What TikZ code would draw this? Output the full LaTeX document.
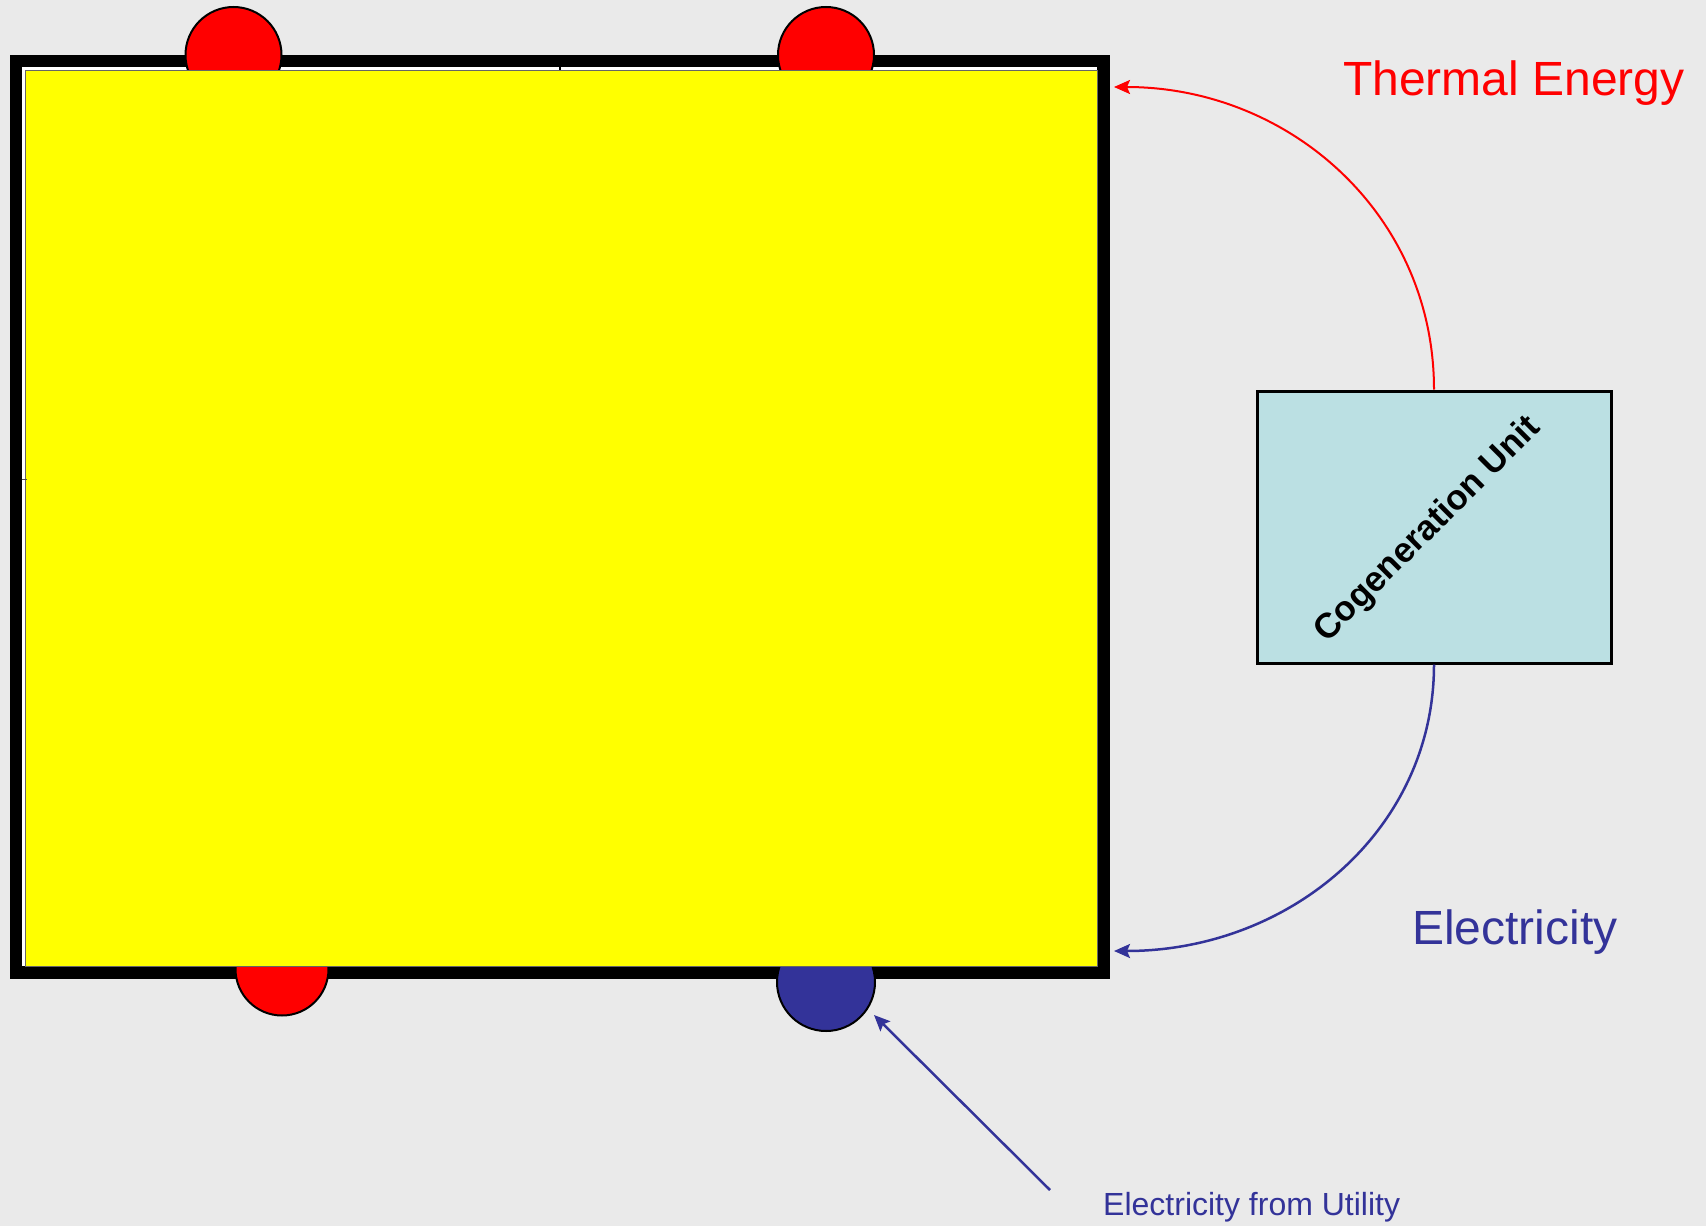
\documentclass[tikz,border=0pt]{standalone}
\usepackage{fontspec}
\setmainfont{Liberation Sans}
\usetikzlibrary{arrows.meta}
\definecolor{bgc}{HTML}{EAEAEA}
\definecolor{pblue}{HTML}{333399}
\definecolor{cogen}{HTML}{BBE0E3}
\definecolor{pyellow}{HTML}{FFFF00}
\definecolor{pred}{HTML}{FF0000}
\tikzset{
  port/.style={circle, draw=black, line width=2pt, inner sep=0pt},
  flowtip/.style={-{Stealth[length=16pt,width=14pt,inset=3pt]}},
  heatline/.style={flowtip, draw=pred, line width=2pt},
  powerline/.style={flowtip, draw=pblue, line width=2.5pt},
  biglabel/.style={font=\fontsize{48}{58}\selectfont, inner sep=0pt},
}
\begin{document}
\begin{tikzpicture}[x=1pt,y=-1pt]
\useasboundingbox (0,0) rectangle (1706,1226);
\fill[bgc] (0,0) rectangle (1706,1226);
% building frame
\fill[black] (10,55) rectangle (1110,979);
\fill[white] (22,67) rectangle (1097,966);
% ports
\node[port, fill=pred, minimum size=96pt] (p1) at (233.5,55) {};
\node[port, fill=pred, minimum size=96pt] (p2) at (826,55) {};
\node[port, fill=pred, minimum size=93pt] (p3) at (282,969) {};
\node[port, fill=pblue, minimum size=98pt] (p4) at (826,982) {};
% building interior
\draw[fill=pyellow, draw=black!60, line width=1pt] (25.5,70.5) rectangle (1097,966);
\draw[black, line width=1.5pt] (560,66) -- (560,70);
\draw[black!70, line width=1pt] (22,479) -- (27,479);
% cogeneration unit
\node[draw=black, fill=cogen, line width=3pt, minimum width=354pt, minimum height=272pt, inner sep=0pt] (cg) at (1434,527) {};
\node[rotate=45, font=\bfseries\fontsize{35}{42}\selectfont, inner sep=0pt] (cgt) at (1428,530) {Cogeneration Unit};
% flows
\coordinate (thtip) at (1114,87);
\coordinate (eltip) at (1114,951);
\coordinate (utl) at (1050,1190);
\coordinate (uttip) at (874,1015);
\draw[heatline] (cg.north) .. controls (1434,215) and (1290,87) .. (thtip);
\draw[powerline] (cg.south) .. controls (1434,830) and (1290,951) .. (eltip);
\draw[powerline] (utl) -- (uttip);
% labels
\node[biglabel, text=pred, anchor=base west] (lth) at (1343,95) {Thermal Energy};
\node[biglabel, text=pblue, anchor=base west] (lel) at (1412,944) {Electricity};
\node[font=\fontsize{32}{38}\selectfont, text=pblue, inner sep=0pt, anchor=base west] (lut) at (1103,1215) {Electricity from Utility};
\end{tikzpicture}
\end{document}
